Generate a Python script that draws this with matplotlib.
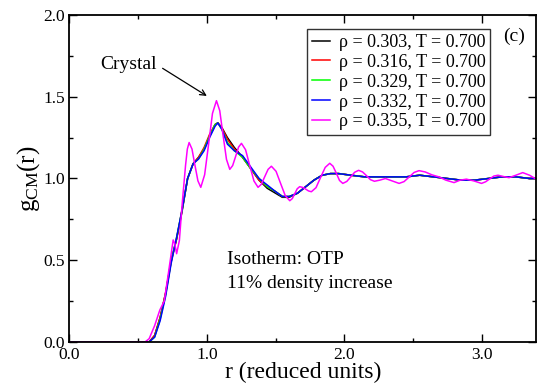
import matplotlib.pyplot as plt
from matplotlib.ticker import MultipleLocator

plt.rcParams['font.family'] = 'Liberation Serif'
plt.rcParams['mathtext.fontset'] = 'custom'
plt.rcParams['mathtext.rm'] = 'Liberation Serif'
plt.rcParams['mathtext.it'] = 'Liberation Serif:italic'

# g_CM(r) along the isotherm T = 0.700, densities 0.303 .. 0.335
r_liq = [0.0, 0.58, 0.62, 0.66, 0.70, 0.74, 0.78, 0.82, 0.86, 0.90, 0.94, 0.98,
         1.02, 1.06, 1.08, 1.11, 1.15, 1.20, 1.26, 1.32, 1.38, 1.44, 1.50, 1.55,
         1.60, 1.66, 1.72, 1.78, 1.84, 1.90, 1.96, 2.05, 2.15, 2.25, 2.35, 2.45,
         2.55, 2.65, 2.75, 2.85, 2.95, 3.05, 3.15, 3.25, 3.35, 3.40]
g_303 = [0.0, 0.0, 0.04, 0.15, 0.30, 0.50, 0.63, 0.80, 1.00, 1.09, 1.13, 1.18,
         1.26, 1.33, 1.34, 1.31, 1.25, 1.19, 1.13, 1.06, 0.99, 0.94, 0.91, 0.885,
         0.885, 0.91, 0.95, 0.99, 1.02, 1.03, 1.03, 1.02, 1.01, 1.01, 1.01, 1.01,
         1.02, 1.01, 1.00, 0.99, 0.99, 1.00, 1.01, 1.01, 1.00, 1.00]
g_316 = [0.0, 0.0, 0.04, 0.15, 0.30, 0.49, 0.63, 0.81, 1.00, 1.09, 1.13, 1.19,
         1.27, 1.33, 1.34, 1.31, 1.24, 1.18, 1.13, 1.06, 0.99, 0.95, 0.92, 0.89,
         0.89, 0.91, 0.95, 0.99, 1.02, 1.03, 1.03, 1.02, 1.01, 1.01, 1.01, 1.01,
         1.02, 1.01, 1.00, 0.99, 0.99, 1.00, 1.01, 1.01, 1.00, 1.00]
g_329 = [0.0, 0.0, 0.03, 0.14, 0.29, 0.49, 0.64, 0.81, 1.00, 1.09, 1.12, 1.18,
         1.26, 1.33, 1.34, 1.30, 1.22, 1.17, 1.13, 1.06, 1.00, 0.95, 0.92, 0.89,
         0.89, 0.91, 0.95, 0.99, 1.02, 1.03, 1.03, 1.02, 1.01, 1.01, 1.01, 1.01,
         1.02, 1.01, 1.00, 0.99, 0.99, 1.00, 1.01, 1.01, 1.00, 1.00]
g_332 = [0.0, 0.0, 0.03, 0.13, 0.28, 0.48, 0.64, 0.81, 1.00, 1.09, 1.12, 1.17,
         1.25, 1.32, 1.34, 1.30, 1.21, 1.17, 1.14, 1.07, 1.00, 0.96, 0.92, 0.89,
         0.89, 0.91, 0.95, 0.99, 1.02, 1.03, 1.03, 1.02, 1.01, 1.01, 1.01, 1.01,
         1.02, 1.01, 1.00, 0.99, 0.99, 1.00, 1.01, 1.01, 1.00, 1.00]

# densest state point: crystalline, strongly oscillating
r_335 = [0.0, 0.55, 0.58, 0.62, 0.658, 0.69, 0.72, 0.755, 0.767, 0.78, 0.80, 0.82,
         0.845, 0.858, 0.871, 0.892, 0.913, 0.935, 0.956, 0.984, 1.013, 1.041, 1.07,
         1.094, 1.118, 1.143, 1.167, 1.188, 1.21, 1.231, 1.252, 1.282, 1.312, 1.343,
         1.373, 1.397, 1.421, 1.446, 1.47, 1.504, 1.537, 1.571, 1.604, 1.622, 1.64,
         1.658, 1.676, 1.70, 1.72, 1.74, 1.761, 1.795, 1.828, 1.862, 1.895, 1.919,
         1.943, 1.966, 1.99, 2.019, 2.048, 2.076, 2.105, 2.134, 2.163, 2.191, 2.22,
         2.26, 2.30, 2.35, 2.40, 2.436, 2.473, 2.509, 2.545, 2.59, 2.64, 2.69, 2.74,
         2.80, 2.845, 2.89, 2.945, 3.0, 3.03, 3.06, 3.09, 3.12, 3.16, 3.20, 3.25,
         3.30, 3.35, 3.40]
g_335 = [0.0, 0.0, 0.02, 0.10, 0.196, 0.25, 0.42, 0.624, 0.60, 0.54, 0.62, 0.84,
         1.08, 1.18, 1.22, 1.18, 1.083, 0.986, 0.946, 1.023, 1.211, 1.398, 1.476,
         1.415, 1.266, 1.117, 1.056, 1.079, 1.136, 1.192, 1.215, 1.176, 1.08, 0.985,
         0.946, 0.965, 1.01, 1.056, 1.075, 1.044, 0.97, 0.895, 0.864, 0.877, 0.907,
         0.937, 0.95, 0.945, 0.935, 0.924, 0.919, 0.944, 1.006, 1.068, 1.093, 1.075,
         1.032, 0.988, 0.97, 0.982, 1.01, 1.038, 1.05, 1.04, 1.017, 0.993, 0.983,
         0.99, 1.0, 0.985, 0.97, 0.981, 1.009, 1.037, 1.048, 1.04, 1.022, 1.01, 0.99,
         0.975, 0.99, 0.996, 0.985, 0.97, 0.98, 0.998, 1.015, 1.02, 1.012, 1.005, 1.02,
         1.036, 1.02, 0.995]

labels = ['ρ = 0.303, T = 0.700', 'ρ = 0.316, T = 0.700', 'ρ = 0.329, T = 0.700',
          'ρ = 0.332, T = 0.700', 'ρ = 0.335, T = 0.700']
colors = ['black', 'red', '#00ff00', 'blue', 'magenta']

fig = plt.figure(figsize=(5.37, 3.88), dpi=100)
ax = fig.add_axes([0.1294, 0.1186, 0.8696, 0.8427])

series = [(r_liq, g_303), (r_liq, g_316), (r_liq, g_329), (r_liq, g_332), (r_335, g_335)]
for (x, y), c, lab in zip(series, colors, labels):
    ax.plot(x, y, color=c, lw=1.1, label=lab)

ax.set_xlim(0, 3.4)
ax.set_ylim(0, 2.0)
ax.xaxis.set_major_locator(MultipleLocator(1.0))
ax.xaxis.set_minor_locator(MultipleLocator(0.5))
ax.yaxis.set_major_locator(MultipleLocator(0.5))
ax.yaxis.set_minor_locator(MultipleLocator(0.25))
ax.xaxis.set_major_formatter(plt.FormatStrFormatter('%.1f'))
ax.yaxis.set_major_formatter(plt.FormatStrFormatter('%.1f'))
ax.tick_params(which='both', direction='in', top=True, right=True, labelsize=12.5, width=1)
ax.tick_params(which='major', length=6)
ax.tick_params(which='minor', length=3)
for s in ax.spines.values():
    s.set_linewidth(1.3)

ax.set_xlabel('r (reduced units)', fontsize=17, labelpad=-1)
ax.set_ylabel(r'g$_{\rm CM}$(r)', fontsize=18, labelpad=1)

ax.legend(loc='upper left', bbox_to_anchor=(0.5086, 0.956), fontsize=13, frameon=True,
          fancybox=False, edgecolor='black', handlelength=1.05, handletextpad=0.45,
          borderpad=0.25, labelspacing=0.16, borderaxespad=0)
ax.get_legend().get_frame().set_linewidth(1.0)

ax.text(0.43, 1.695, 'Crystal', fontsize=14, ha='center', va='center')
ax.annotate('', xy=(1.0, 1.505), xytext=(0.678, 1.674),
            arrowprops=dict(arrowstyle='->', color='black', lw=0.9, shrinkA=0, shrinkB=0))
ax.text(1.15, 0.505, 'Isotherm: OTP', fontsize=14, va='center')
ax.text(1.15, 0.36, '11% density increase', fontsize=14, va='center')
ax.text(3.24, 1.87, '(c)', fontsize=14, ha='center', va='center')

fig.savefig('out.png', dpi=100)
